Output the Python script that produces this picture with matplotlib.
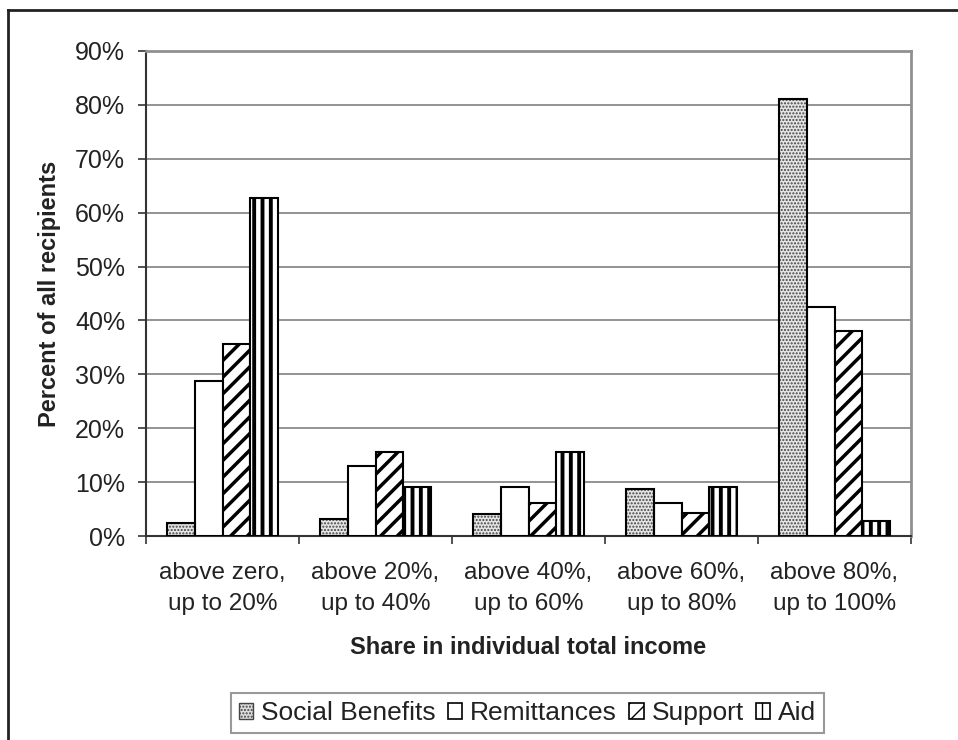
import matplotlib.pyplot as plt
import numpy as np
from matplotlib.lines import Line2D
from matplotlib.patches import Patch

# data
categories = ["above zero,\nup to 20%", "above 20%,\nup to 40%", "above 40%,\nup to 60%",
              "above 60%,\nup to 80%", "above 80%,\nup to 100%"]
social_benefits = [2.5, 3.2, 4.0, 8.8, 81.1]
remittances = [28.8, 12.9, 9.1, 6.2, 42.5]
support = [35.6, 15.5, 6.2, 4.3, 38.1]
aid = [62.7, 9.1, 15.5, 9.1, 2.8]
y_ticks = [0, 10, 20, 30, 40, 50, 60, 70, 80, 90]

plt.rcParams["font.family"] = ["Liberation Sans", "DejaVu Sans"]

fig = plt.figure(figsize=(9.58, 7.40), dpi=100)
ax = fig.add_axes([146 / 958, 1 - 536 / 740, (911 - 146) / 958, (536 - 51) / 740])

x = np.arange(len(categories))
w = 1 / 5.5

# social benefits: grey stipple, then black outline on top
with plt.rc_context({"hatch.linewidth": 1.0}):
    ax.bar(x - 1.5 * w, social_benefits, w, color="#e4e4e4", edgecolor="#444444",
           hatch=".....", linewidth=0, zorder=3)
    sb_handle = Patch(facecolor="#dddddd", edgecolor="#444444", hatch=".....", linewidth=1)
ax.bar(x - 1.5 * w, social_benefits, w, fill=False, edgecolor="black", linewidth=1.5, zorder=4)
ax.bar(x - 0.5 * w, remittances, w, color="white", edgecolor="black", linewidth=1.5, zorder=3)
with plt.rc_context({"hatch.linewidth": 2.5}):
    ax.bar(x + 0.5 * w, support, w, color="white", edgecolor="black", hatch="//",
           linewidth=1.5, zorder=3)
    sup_handle = Patch(facecolor="white", edgecolor="black", hatch="//", linewidth=1.2)
with plt.rc_context({"hatch.linewidth": 2.8}):
    ax.bar(x + 1.5 * w, aid, w, color="white", edgecolor="black", hatch="||",
           linewidth=1.5, zorder=3)
    aid_handle = Patch(facecolor="white", edgecolor="black", hatch="||", linewidth=1.2)

ax.set_xlim(-0.5, len(categories) - 0.5)
ax.set_ylim(0, 90)
ax.set_yticks(y_ticks)
ax.set_yticklabels([f"{t}%" for t in y_ticks])
ax.yaxis.grid(True, color="#808080", linewidth=1.2, zorder=0)
ax.set_axisbelow(True)

ax.set_xticks(x)
ax.set_xticklabels(categories, fontsize=17.5, color="#222222", linespacing=1.5)
ax.set_xticks(np.arange(len(categories) + 1) - 0.5, minor=True)
ax.tick_params(axis="x", which="major", length=0, pad=19)
ax.tick_params(axis="x", which="minor", length=6, width=1.2, color="#333333", direction="out")
ax.tick_params(axis="y", length=6, width=1.2, color="#333333", pad=9, labelsize=18,
               labelcolor="#222222")

for side in ["top", "right"]:
    ax.spines[side].set_color("#909090")
    ax.spines[side].set_linewidth(2)
for side in ["left", "bottom"]:
    ax.spines[side].set_color("#333333")
    ax.spines[side].set_linewidth(1.5)

ax.set_ylabel("Percent of all recipients", fontsize=17, fontweight="bold",
              color="#222222", labelpad=10)
fig.text(0.5 * (146 + 911) / 958, 1 - 648 / 740, "Share in individual total income",
         ha="center", va="center", fontsize=17, fontweight="bold", color="#222222")

# outer chart frame
fig.add_artist(Line2D([8 / 958, 8 / 958], [0, 1 - 10 / 740], color="#222222", linewidth=2))
fig.add_artist(Line2D([8 / 958, 1], [1 - 10 / 740, 1 - 10 / 740], color="#222222", linewidth=2))

handles = [
    sb_handle,
    Patch(facecolor="white", edgecolor="black", linewidth=1.2),
    sup_handle,
    aid_handle,
]
leg = fig.legend(handles, ["Social Benefits", "Remittances", "Support", "Aid"],
                 loc="upper center", bbox_to_anchor=(527.5 / 958, 1 - 693 / 740), ncol=4,
                 fontsize=19, frameon=True, fancybox=False, handlelength=0.55,
                 handleheight=0.55, handletextpad=0.3, columnspacing=0.45,
                 borderpad=0.3, borderaxespad=0)
leg.get_frame().set_edgecolor("#808080")
leg.get_frame().set_linewidth(1.5)
for t in leg.get_texts():
    t.set_color("#222222")

fig.savefig("out.png", dpi=100)
